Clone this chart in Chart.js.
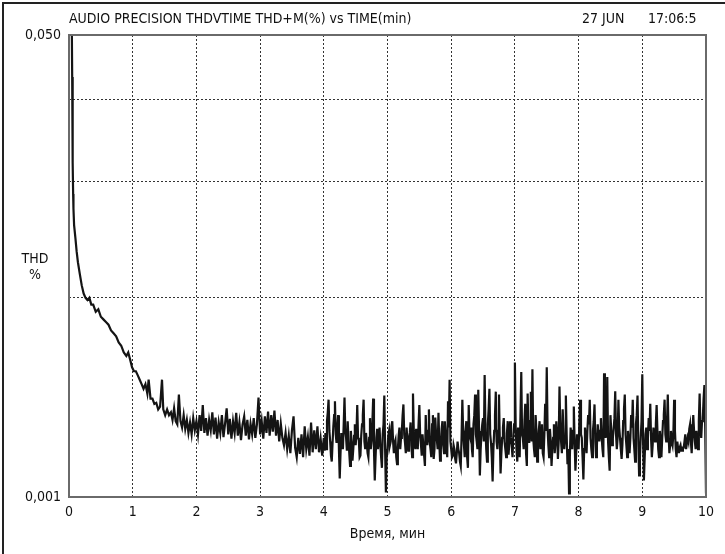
<!DOCTYPE html>
<html>
<head>
<meta charset="utf-8">
<title>THD vs time</title>
<script src="https://cdn.jsdelivr.net/npm/chart.js@4.4.1/dist/chart.umd.min.js"></script>
<style>
  body { margin: 0; background: #fff; }
  #wrap { position: relative; width: 725px; height: 554px; overflow: hidden; }
  #frame { position: absolute; left: 2px; top: 2px; right: -4px; bottom: -4px;
           border-left: 2px solid #222; border-top: 2px solid #222; }
  .lbl { position: absolute; font-family: 'DejaVu Sans Condensed', sans-serif;
         font-size: 14px; line-height: 16px; color: #111; white-space: nowrap; }
  canvas { position: absolute; left: 0; top: 0; }
</style>
</head>
<body>
<div id="wrap">
  <canvas id="thdChart" width="725" height="554"></canvas>
  <div id="frame"></div>
  <div class="lbl" style="left:69px; top:10px;">AUDIO PRECISION THDVTIME THD+M(%) vs TIME(min)</div>
  <div class="lbl" style="left:582px; top:10px;">27 JUN</div>
  <div class="lbl" style="left:648px; top:10px;">17:06:5</div>
  <div class="lbl" style="left:20px; top:250px; width:30px; text-align:center;">THD</div>
  <div class="lbl" style="left:20px; top:266px; width:30px; text-align:center;">%</div>
</div>
<script>
// warm-up part of the run, read point by point (minutes, THD %)
const warmupMin = [0.045, 0.05, 0.055, 0.06, 0.065, 0.07, 0.08, 0.10, 0.12, 0.14, 0.17, 0.20, 0.23, 0.26,
  0.29, 0.32, 0.35, 0.38, 0.42, 0.46, 0.50, 0.54, 0.58, 0.62, 0.66, 0.70, 0.74, 0.78, 0.82,
  0.86, 0.90, 0.93, 0.96, 0.99, 1.02, 1.05, 1.08, 1.11, 1.14, 1.17, 1.20, 1.23, 1.25, 1.28,
  1.31, 1.34, 1.37, 1.40, 1.43, 1.46, 1.48, 1.51, 1.54, 1.57];
const warmupThd = [0.050, 0.035, 0.024, 0.017, 0.013, 0.0115, 0.0100, 0.0090, 0.0080, 0.0073, 0.0066,
  0.0060, 0.0056, 0.0054, 0.0053, 0.0054, 0.0051, 0.0051, 0.0048, 0.0049, 0.0046, 0.0045,
  0.0044, 0.0043, 0.0041, 0.0040, 0.0039, 0.0037, 0.0036, 0.0034, 0.0033, 0.0034, 0.0032,
  0.0030, 0.0029, 0.0029, 0.0028, 0.0027, 0.0026, 0.0025, 0.0026, 0.0024, 0.0027, 0.0023,
  0.0023, 0.0022, 0.00222, 0.0021, 0.00215, 0.0027, 0.0021, 0.0020, 0.0021, 0.0020];

// settling, one reading every 0.025 min from 1.6 to 3.975 min
const settleStartMin = 1.6;
const settleStepMin = 0.025;
const settleThd = [
  // 1.6 - 1.975
  0.00205, 0.00192, 0.00212, 0.00190, 0.00185, 0.00238, 0.00190, 0.00180,
  0.00200, 0.00178, 0.00192, 0.00172, 0.00188, 0.00170, 0.00195, 0.00176,
  // 2
  0.00190, 0.00170, 0.00200, 0.00175, 0.00218, 0.00172, 0.00195, 0.00168, 0.00192, 0.00176,
  0.00205, 0.00170, 0.00196, 0.00164, 0.00188, 0.00172, 0.00200, 0.00166, 0.00186, 0.00212,
  0.00170, 0.00194, 0.00164, 0.00190, 0.00172, 0.00204, 0.00168, 0.00188, 0.00162, 0.00185,
  0.00198, 0.00168, 0.00192, 0.00163, 0.00186, 0.00170, 0.00195, 0.00165, 0.00185, 0.00232,
  // 3
  0.00170, 0.00190, 0.00164, 0.00198, 0.00172, 0.00206, 0.00168, 0.00200, 0.00174, 0.00208,
  0.00168, 0.00192, 0.00160, 0.00186, 0.00165, 0.00155, 0.00172, 0.00150, 0.00168, 0.00145,
  0.00176, 0.00198, 0.00152, 0.00140, 0.00165, 0.00144, 0.00170, 0.00140, 0.00182, 0.00150,
  0.00166, 0.00142, 0.00188, 0.00146, 0.00176, 0.00150, 0.00182, 0.00146, 0.00164, 0.00142
];

// noisy part, one reading every 0.0125 min from 4 to 10 min
const noisyStartMin = 4;
const noisyStepMin = 0.0125;
const noisyThd = [
  // 4
  0.00165, 0.00148, 0.00172, 0.00150, 0.00190, 0.00205, 0.00228, 0.00175,
  0.00160, 0.00142, 0.00135, 0.00158, 0.00182, 0.00200, 0.00225, 0.00170,
  0.00158, 0.00178, 0.00200, 0.00150, 0.00117, 0.00145, 0.00172, 0.00160,
  0.00150, 0.00185, 0.00232, 0.00175, 0.00165, 0.00148, 0.00190, 0.00162,
  0.00145, 0.00130, 0.00175, 0.00155, 0.00136, 0.00150, 0.00168, 0.00185,
  0.00155, 0.00170, 0.00218, 0.00165, 0.00162, 0.00140, 0.00142, 0.00168,
  0.00185, 0.00200, 0.00228, 0.00160, 0.00150, 0.00172, 0.00172, 0.00145,
  0.00140, 0.00165, 0.00195, 0.00150, 0.00160, 0.00188, 0.00230, 0.00150,
  0.00115, 0.00140, 0.00165, 0.00178, 0.00150, 0.00162, 0.00180, 0.00155,
  0.00140, 0.00128, 0.00170, 0.00185, 0.00236, 0.00150, 0.00104, 0.00140,
  // 5
  0.00150, 0.00168, 0.00175, 0.00155, 0.00160, 0.00182, 0.00190, 0.00160,
  0.00145, 0.00158, 0.00162, 0.00140, 0.00132, 0.00150, 0.00168, 0.00180,
  0.00150, 0.00165, 0.00175, 0.00200, 0.00219, 0.00170, 0.00158, 0.00145,
  0.00180, 0.00160, 0.00148, 0.00165, 0.00172, 0.00188, 0.00155, 0.00140,
  0.00240, 0.00175, 0.00160, 0.00150, 0.00178, 0.00162, 0.00150, 0.00185,
  0.00218, 0.00170, 0.00156, 0.00142, 0.00170, 0.00155, 0.00142, 0.00130,
  0.00200, 0.00165, 0.00155, 0.00175, 0.00210, 0.00160, 0.00150, 0.00140,
  0.00185, 0.00200, 0.00138, 0.00150, 0.00196, 0.00170, 0.00162, 0.00150,
  0.00204, 0.00160, 0.00136, 0.00150, 0.00178, 0.00190, 0.00155, 0.00145,
  0.00190, 0.00170, 0.00160, 0.00140, 0.00225, 0.00180, 0.00270, 0.00160,
  // 6
  0.00150, 0.00140, 0.00142, 0.00155, 0.00150, 0.00138, 0.00133, 0.00145,
  0.00160, 0.00150, 0.00145, 0.00135, 0.00130, 0.00165, 0.00228, 0.00175,
  0.00155, 0.00140, 0.00175, 0.00190, 0.00140, 0.00128, 0.00218, 0.00170,
  0.00165, 0.00180, 0.00150, 0.00140, 0.00185, 0.00200, 0.00238, 0.00170,
  0.00160, 0.00150, 0.00248, 0.00175, 0.00120, 0.00150, 0.00170, 0.00185,
  0.00195, 0.00160, 0.00281, 0.00180, 0.00150, 0.00135, 0.00185, 0.00210,
  0.00250, 0.00170, 0.00158, 0.00140, 0.00114, 0.00150, 0.00175, 0.00200,
  0.00244, 0.00160, 0.00150, 0.00175, 0.00238, 0.00165, 0.00122, 0.00145,
  0.00165, 0.00180, 0.00195, 0.00160, 0.00150, 0.00140, 0.00172, 0.00190,
  0.00143, 0.00158, 0.00190, 0.00165, 0.00155, 0.00140, 0.00168, 0.00185,
  // 7
  0.00312, 0.00180, 0.00150, 0.00135, 0.00180, 0.00160, 0.00140, 0.00200,
  0.00288, 0.00170, 0.00165, 0.00150, 0.00190, 0.00220, 0.00145, 0.00130,
  0.00240, 0.00175, 0.00158, 0.00190, 0.00244, 0.00160, 0.00295, 0.00165,
  0.00150, 0.00140, 0.00200, 0.00175, 0.00135, 0.00150, 0.00175, 0.00190,
  0.00150, 0.00165, 0.00185, 0.00145, 0.00140, 0.00170, 0.00220, 0.00175,
  0.00300, 0.00180, 0.00155, 0.00140, 0.00178, 0.00160, 0.00130, 0.00150,
  0.00165, 0.00185, 0.00145, 0.00160, 0.00190, 0.00170, 0.00138, 0.00160,
  0.00255, 0.00180, 0.00160, 0.00145, 0.00210, 0.00175, 0.00150, 0.00165,
  0.00236, 0.00170, 0.00132, 0.00150, 0.00103, 0.00140, 0.00180, 0.00165,
  0.00150, 0.00175, 0.00215, 0.00160, 0.00125, 0.00145, 0.00170, 0.00160,
  // 8
  0.00150, 0.00190, 0.00228, 0.00170, 0.00165, 0.00140, 0.00116, 0.00150,
  0.00180, 0.00160, 0.00145, 0.00175, 0.00200, 0.00185, 0.00228, 0.00165,
  0.00150, 0.00140, 0.00175, 0.00190, 0.00219, 0.00160, 0.00140, 0.00155,
  0.00185, 0.00170, 0.00160, 0.00175, 0.00195, 0.00165, 0.00150, 0.00140,
  0.00285, 0.00190, 0.00165, 0.00180, 0.00276, 0.00160, 0.00140, 0.00125,
  0.00200, 0.00175, 0.00155, 0.00165, 0.00178, 0.00195, 0.00245, 0.00170,
  0.00150, 0.00165, 0.00228, 0.00180, 0.00165, 0.00150, 0.00138, 0.00155,
  0.00190, 0.00210, 0.00238, 0.00170, 0.00155, 0.00140, 0.00175, 0.00160,
  0.00145, 0.00165, 0.00200, 0.00180, 0.00228, 0.00165, 0.00150, 0.00135,
  0.00185, 0.00200, 0.00236, 0.00160, 0.00120, 0.00140, 0.00165, 0.00190,
  // 9
  0.00283, 0.00160, 0.00115, 0.00140, 0.00170, 0.00180, 0.00150, 0.00165,
  0.00195, 0.00175, 0.00220, 0.00165, 0.00140, 0.00155, 0.00180, 0.00170,
  0.00160, 0.00185, 0.00218, 0.00175, 0.00150, 0.00140, 0.00175, 0.00160,
  0.00140, 0.00165, 0.00190, 0.00200, 0.00228, 0.00170, 0.00160, 0.00185,
  0.00238, 0.00170, 0.00145, 0.00155, 0.00175, 0.00160, 0.00155, 0.00170,
  0.00228, 0.00175, 0.00150, 0.00140, 0.00160, 0.00150, 0.00145, 0.00152,
  0.00155, 0.00148, 0.00148, 0.00152, 0.00152, 0.00160, 0.00170, 0.00150,
  0.00150, 0.00165, 0.00160, 0.00178, 0.00185, 0.00160, 0.00145, 0.00170,
  0.00200, 0.00175, 0.00160, 0.00150, 0.00175, 0.00160, 0.00150, 0.00190,
  0.00240, 0.00180, 0.00165, 0.00190, 0.00195, 0.00230, 0.00258, 0.00180,
  // 10
  0.00103
];

// axes
const xTicks = [0, 1, 2, 3, 4, 5, 6, 7, 8, 9, 10];
const yGridValues = [0.001, 0.00541, 0.01449, 0.029, 0.050];
const yTickLabels = ['0,001', '', '', '', '0,050'];

const points = [];
warmupMin.forEach((m, i) => points.push({ x: m, y: warmupThd[i] }));
settleThd.forEach((v, i) => points.push({ x: settleStartMin + i * settleStepMin, y: v }));
noisyThd.forEach((v, i) => points.push({ x: noisyStartMin + i * noisyStepMin, y: v }));

const axisFont = { family: "'DejaVu Sans Condensed', sans-serif", size: 14 };

// grey frame round the plotting area
const plotFrame = {
  id: 'plotFrame',
  afterDraw(chart) {
    const { ctx, chartArea: a } = chart;
    ctx.save();
    ctx.strokeStyle = '#6a6a6a';
    ctx.lineWidth = 2;
    ctx.strokeRect(a.left, a.top, a.right - a.left, a.bottom - a.top);
    ctx.restore();
  }
};

new Chart(document.getElementById('thdChart'), {
  type: 'line',
  data: {
    datasets: [{
      data: points,
      borderColor: '#141414',
      borderWidth: 2.2,
      borderJoinStyle: 'miter',
      pointRadius: 0,
      tension: 0
    }]
  },
  options: {
    responsive: false,
    animation: false,
    devicePixelRatio: 1,
    layout: { padding: { left: 0, top: 35, right: 19, bottom: 0 } },
    plugins: { legend: { display: false }, tooltip: { enabled: false } },
    scales: {
      x: {
        type: 'linear',
        min: 0,
        max: 10,
        afterBuildTicks: (scale) => { scale.ticks = xTicks.map(v => ({ value: v })); },
        afterFit: (scale) => { scale.height = 57; },
        ticks: { color: '#111', font: axisFont, padding: 7, maxRotation: 0 },
        grid: {
          drawTicks: false,
          color: (c) => (c.tick && (c.tick.value === 0 || c.tick.value === 10)) ? 'rgba(0,0,0,0)' : '#333',
          lineWidth: 1
        },
        border: { display: false, dash: [2, 2] },
        title: { display: true, text: 'Время, мин', color: '#111', font: axisFont, padding: { top: 0, bottom: 11 } }
      },
      y: {
        type: 'logarithmic',
        min: 0.001,
        max: 0.05,
        afterBuildTicks: (scale) => { scale.ticks = yGridValues.map(v => ({ value: v })); },
        afterFit: (scale) => { scale.width = 69; },
        ticks: {
          color: '#111',
          font: axisFont,
          padding: 8,
          callback: (value, index) => yTickLabels[index]
        },
        grid: {
          drawTicks: false,
          color: (c) => (c.index === 0 || c.index === yGridValues.length - 1) ? 'rgba(0,0,0,0)' : '#333',
          lineWidth: 1
        },
        border: { display: false, dash: [2, 2] }
      }
    }
  },
  plugins: [plotFrame]
});
</script>
</body>
</html>
